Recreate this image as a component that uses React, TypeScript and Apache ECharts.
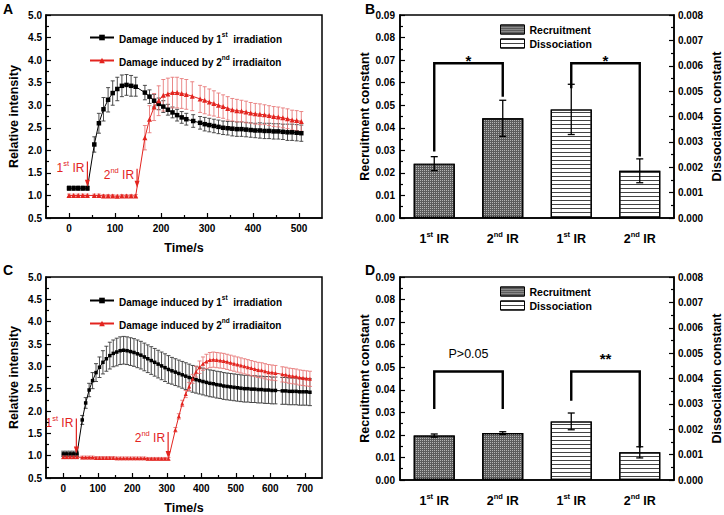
import React, { useEffect, useRef } from "react";
import * as echarts from "echarts";

const FONT = '"Liberation Sans", Arial, Helvetica, sans-serif';
const RED = "#e3241f";
const RED_ERR = "#e87a7a";
const BLACK_ERR = "#3a3a3a";

const name1 = "Damage induced by 1st  irradiation";
const name2 = "Damage induced by 2nd irradiaiton";

// ---------- Panel A ----------
const aTime1 = [0,10,20,30,40,55,65,75,85,95,105,115,125,135,145,165,175,185,195,205,215,225,235,245,255,270,285,295,305,315,325,335,345,355,365,375,385,395,405,415,425,435,445,455,465,475,485,495,505];
const aMean1 = [1.16,1.16,1.16,1.16,1.16,2.13,2.6,2.91,3.12,3.27,3.36,3.43,3.45,3.43,3.41,3.28,3.19,3.1,3.03,2.97,2.9,2.84,2.78,2.73,2.69,2.65,2.61,2.58,2.56,2.54,2.52,2.5,2.49,2.48,2.47,2.47,2.46,2.45,2.44,2.44,2.43,2.43,2.42,2.42,2.41,2.4,2.4,2.39,2.38];
const aErr1 = [0.05,0.05,0.05,0.05,0.05,0.17,0.22,0.26,0.27,0.27,0.26,0.24,0.23,0.23,0.21,0.16,0.15,0.14,0.13,0.13,0.12,0.12,0.13,0.13,0.13,0.14,0.14,0.15,0.15,0.15,0.15,0.15,0.15,0.16,0.16,0.16,0.16,0.16,0.16,0.17,0.17,0.17,0.17,0.17,0.17,0.18,0.18,0.18,0.18];
const aTime2 = [0,10,20,30,40,55,65,75,85,95,105,115,125,135,145,165,175,185,195,205,215,225,235,245,255,268,285,295,305,315,325,335,345,355,365,375,385,395,405,415,425,435,445,455,465,475,485,495,505];
const aMean2 = [1.0,1.0,1.0,1.0,1.0,1.0,1.0,0.99,0.99,0.99,0.98,0.99,0.99,0.99,0.99,2.28,2.69,2.96,3.1,3.22,3.25,3.28,3.28,3.26,3.24,3.2,3.14,3.11,3.07,3.04,3.0,2.97,2.93,2.9,2.88,2.87,2.85,2.83,2.81,2.8,2.79,2.77,2.75,2.74,2.72,2.7,2.67,2.66,2.64];
const aErr2 = [0.03,0.03,0.03,0.03,0.03,0.03,0.03,0.03,0.03,0.03,0.03,0.03,0.03,0.03,0.03,0.27,0.3,0.3,0.33,0.35,0.35,0.34,0.34,0.33,0.33,0.32,0.3,0.3,0.29,0.28,0.27,0.26,0.26,0.25,0.25,0.24,0.24,0.23,0.23,0.23,0.22,0.22,0.22,0.22,0.22,0.22,0.22,0.22,0.22];
const aXLabels = [0,100,200,300,400,500];
const aXMinor = [50,150,250,350,450];
const aIrLabels = ["1st IR", "2nd IR"];
const aIrT = [40, 148];
const aIrTop = [1.75, 1.59];
const aIrTip = [1.19, 1.17];
const aIrTextY = [1.64, 1.48];

// ---------- Panel C ----------
const cTime1 = [0,10,20,30,40,55,65,75,85,95,105,115,125,135,145,155,165,175,185,195,205,215,225,235,245,255,265,275,285,295,305,315,325,335,345,355,365,375,385,395,405,415,425,435,445,455,465,475,485,495,505,515,525,535,545,555,565,575,585,595,605,615,635,645,655,665,675,685,695,705,715];
const cMean1 = [1.04,1.04,1.04,1.04,1.04,1.8,2.18,2.47,2.68,2.86,2.98,3.09,3.17,3.24,3.29,3.32,3.35,3.36,3.35,3.33,3.31,3.28,3.25,3.21,3.17,3.13,3.09,3.05,3.01,2.97,2.93,2.9,2.87,2.84,2.81,2.78,2.75,2.72,2.7,2.68,2.66,2.64,2.62,2.61,2.59,2.58,2.56,2.55,2.54,2.53,2.52,2.51,2.5,2.5,2.49,2.49,2.48,2.48,2.47,2.47,2.46,2.46,2.45,2.45,2.44,2.44,2.44,2.43,2.43,2.43,2.42];
const cErr1 = [0.06,0.06,0.06,0.06,0.06,0.1,0.12,0.15,0.18,0.2,0.23,0.26,0.28,0.3,0.3,0.31,0.31,0.31,0.31,0.31,0.31,0.31,0.31,0.31,0.31,0.31,0.31,0.31,0.31,0.31,0.31,0.3,0.3,0.3,0.3,0.3,0.3,0.3,0.3,0.3,0.3,0.3,0.3,0.3,0.3,0.3,0.3,0.3,0.3,0.3,0.3,0.3,0.3,0.3,0.3,0.3,0.3,0.3,0.3,0.3,0.3,0.3,0.3,0.3,0.3,0.3,0.3,0.3,0.3,0.3,0.3];
const cTime2 = [0,10,20,30,40,55,65,75,85,95,105,115,125,135,145,155,165,175,185,195,205,215,225,235,245,255,265,275,285,295,305,325,335,345,355,365,375,385,395,405,415,425,435,445,455,465,475,485,495,505,515,525,535,545,555,565,575,585,595,605,615,635,645,655,665,675,685,695,705,715];
const cMean2 = [0.97,0.97,0.97,0.97,0.97,0.96,0.96,0.96,0.96,0.95,0.95,0.95,0.95,0.95,0.95,0.94,0.94,0.94,0.94,0.94,0.94,0.94,0.94,0.94,0.93,0.93,0.93,0.93,0.93,0.93,0.93,1.58,1.88,2.17,2.38,2.55,2.72,2.88,2.98,3.06,3.11,3.14,3.15,3.14,3.13,3.12,3.1,3.08,3.06,3.04,3.02,3.0,2.98,2.96,2.94,2.92,2.91,2.89,2.87,2.86,2.85,2.82,2.81,2.79,2.78,2.77,2.75,2.74,2.73,2.72];
const cErr2 = [0.04,0.04,0.04,0.04,0.04,0.03,0.03,0.03,0.03,0.03,0.03,0.03,0.03,0.03,0.03,0.03,0.03,0.03,0.03,0.03,0.03,0.03,0.03,0.03,0.03,0.03,0.03,0.03,0.03,0.03,0.03,0.05,0.06,0.07,0.08,0.09,0.1,0.12,0.14,0.15,0.16,0.17,0.17,0.17,0.17,0.17,0.17,0.17,0.17,0.17,0.17,0.17,0.17,0.17,0.17,0.17,0.17,0.17,0.17,0.17,0.17,0.17,0.17,0.17,0.17,0.17,0.17,0.17,0.17,0.17];
const cXLabels = [0,100,200,300,400,500,600,700];
const cXMinor = [50,150,250,350,450,550,650];
const cIrLabels = ["1st IR", "2nd IR"];
const cIrT = [38, 304];
const cIrTop = [1.83, 1.53];
const cIrTip = [1.05, 0.95];
const cIrTextY = [1.76, 1.42];

// ---------- Panels B & D ----------
const barCategories = ["1st IR", "2nd IR", "1st IR", "2nd IR"];
const bRecruit = [0.0241, 0.0442];
const bRecruitErr = [0.0031, 0.008];
const bDissoc = [0.00428, 0.00186];
const bDissocErr = [0.00099, 0.00047];
const bBrackets = [[0, 1, 0.0686, 0.0295, 0.0538], [2, 3, 0.0686, 0.0575, 0.0273]];
const bBracketLabels = ["*", "*"];
const bBracketLabelY = [0.0698, 0.0698];

const dRecruit = [0.0197, 0.0208];
const dRecruitErr = [0.0007, 0.0006];
const dDissoc = [0.00231, 0.00109];
const dDissocErr = [0.00033, 0.00022];
const dBrackets = [[0, 1, 0.0481, 0.0315, 0.0315], [2, 3, 0.0481, 0.0351, 0.0144]];
const dBracketLabels = ["P>0.05", "**"];
const dBracketLabelY = [0.0558, 0.0538];

const panelLetters = ["A", "B", "C", "D"];

function supRich(s: string): string {
  return s
    .split(/(\d(?:st|nd|rd|th)\b)/)
    .filter((p) => p.length > 0)
    .map((p) => {
      const m = p.match(/^(\d)(st|nd|rd|th)$/);
      return m ? `{n|${m[1]}}{s|${m[2]}}` : `{n|${p}}`;
    })
    .join("");
}

function richStyles(size: number, supSize: number, weight: string, color: string) {
  return {
    n: { fontSize: size, fontWeight: weight, fontFamily: FONT, color, fill: color, lineHeight: size + 3, verticalAlign: "bottom" },
    s: { fontSize: supSize, fontWeight: weight, fontFamily: FONT, color, fill: color, lineHeight: supSize + 2, verticalAlign: "top" },
  };
}

function errorBarRender(color: string, cap: number, width: number) {
  return (params: any, api: any) => {
    const x = api.value(0);
    const p1 = api.coord([x, api.value(1)]);
    const p2 = api.coord([x, api.value(2)]);
    const style = { stroke: color, lineWidth: width };
    return {
      type: "group",
      children: [
        { type: "line", shape: { x1: p1[0], y1: p1[1], x2: p2[0], y2: p2[1] }, style },
        { type: "line", shape: { x1: p1[0] - cap, y1: p1[1], x2: p1[0] + cap, y2: p1[1] }, style },
        { type: "line", shape: { x1: p2[0] - cap, y1: p2[1], x2: p2[0] + cap, y2: p2[1] }, style },
      ],
    };
  };
}

function bracketRender(labels: string[], labelY: number[]) {
  return (params: any, api: any) => {
    const i1 = api.value(0), i2 = api.value(1), top = api.value(2), lb = api.value(3), rb = api.value(4);
    const a = api.coord([i1, lb]);
    const b = api.coord([i1, top]);
    const c = api.coord([i2, top]);
    const d = api.coord([i2, rb]);
    const label = labels[params.dataIndex];
    const ly = api.coord([i1, labelY[params.dataIndex]])[1];
    const isStar = /^\*+$/.test(label);
    return {
      type: "group",
      children: [
        { type: "polyline", shape: { points: [a, b, c, d] }, style: { stroke: "#000", lineWidth: 2.4, fill: null } },
        {
          type: "text",
          style: {
            text: label, x: (b[0] + c[0]) / 2, y: ly, align: "center", verticalAlign: "middle",
            fontFamily: FONT, fontSize: isStar ? 15 : 12.5, fontWeight: isStar ? "bold" : "normal", fill: "#000",
          },
        },
      ],
    };
  };
}

function irRender(labels: string[], tops: number[], tips: number[], textYs: number[]) {
  return (params: any, api: any) => {
    const i = params.dataIndex;
    const t = api.value(0);
    const top = api.coord([t, tops[i]]);
    const tip = api.coord([t, tips[i]]);
    const ty = api.coord([t, textYs[i]])[1];
    return {
      type: "group",
      children: [
        { type: "line", shape: { x1: top[0], y1: top[1], x2: tip[0], y2: tip[1] - 5 }, style: { stroke: RED, lineWidth: 1.2 } },
        { type: "polygon", shape: { points: [[tip[0] - 2.5, tip[1] - 7], [tip[0] + 2.5, tip[1] - 7], [tip[0], tip[1]]] }, style: { fill: RED } },
        {
          type: "text",
          style: {
            text: supRich(labels[i]), x: top[0] - 3, y: ty, align: "right", verticalAlign: "middle",
            fill: RED, rich: richStyles(12, 7.5, "normal", RED),
          },
        },
      ],
    };
  };
}

const pairs = (xs: number[], ys: number[]) => xs.map((x, i) => [x, ys[i]]);
const errs = (xs: number[], ys: number[], es: number[]) => xs.map((x, i) => [x, ys[i] - es[i], ys[i] + es[i]]);

const tickStyle = { color: "#000", width: 1.2 };
const axisLineStyle = { color: "#000", width: 1.5 };
const tickLabel = { fontFamily: FONT, fontWeight: "bold", fontSize: 10, color: "#000" };
const axisName = { fontFamily: FONT, fontWeight: "bold", fontSize: 12.5, color: "#000" };

function timeXAxes(grid: number, min: number, max: number, labels: number[], minor: number[]) {
  return [
    {
      type: "value", gridIndex: grid, min, max, position: "bottom",
      name: "Time/s", nameLocation: "middle", nameGap: 23, nameTextStyle: axisName,
      axisLine: { show: true, onZero: false, lineStyle: axisLineStyle },
      axisTick: { show: true, inside: true, length: 5, lineStyle: tickStyle, customValues: labels },
      axisLabel: { ...tickLabel, margin: 5, customValues: labels },
      splitLine: { show: false },
    },
    {
      type: "value", gridIndex: grid, min, max, position: "bottom", offset: 0,
      axisLine: { show: false, onZero: false },
      axisTick: { show: true, inside: true, length: 3, lineStyle: tickStyle, customValues: minor },
      axisLabel: { show: false },
      splitLine: { show: false },
    },
  ];
}

function intensityYAxis(grid: number) {
  return {
    type: "value", gridIndex: grid, min: 0.5, max: 5, interval: 0.5,
    name: "Relative intensity", nameLocation: "middle", nameGap: 26, nameTextStyle: axisName,
    axisLine: { show: true, onZero: false, lineStyle: axisLineStyle },
    axisTick: { show: true, inside: true, length: 5, lineStyle: tickStyle },
    minorTick: { show: true, splitNumber: 2, length: 3, lineStyle: tickStyle },
    axisLabel: { ...tickLabel, margin: 4, formatter: (v: number) => v.toFixed(1) },
    splitLine: { show: false },
  };
}

function barXAxis(grid: number) {
  return {
    type: "category", gridIndex: grid, data: barCategories,
    axisLine: { show: true, onZero: false, lineStyle: axisLineStyle },
    axisTick: { show: false },
    axisLabel: { interval: 0, margin: 12, formatter: (v: string) => supRich(v), rich: richStyles(12.5, 7.5, "bold", "#000") },
  };
}

function barYAxes(grid: number) {
  return [
    {
      type: "value", gridIndex: grid, min: 0, max: 0.09, interval: 0.01, position: "left",
      name: "Recruitment constant", nameLocation: "middle", nameGap: 25, nameTextStyle: axisName,
      axisLine: { show: true, onZero: false, lineStyle: axisLineStyle },
      axisTick: { show: true, inside: true, length: 5, lineStyle: tickStyle },
      minorTick: { show: true, splitNumber: 2, length: 3, lineStyle: tickStyle },
      axisLabel: { ...tickLabel, margin: 5, formatter: (v: number) => v.toFixed(2) },
      splitLine: { show: false },
    },
    {
      type: "value", gridIndex: grid, min: 0, max: 0.008, interval: 0.001, position: "right",
      name: "Dissociation constant", nameLocation: "middle", nameGap: 36, nameTextStyle: axisName,
      axisLine: { show: true, onZero: false, lineStyle: axisLineStyle },
      axisTick: { show: true, inside: true, length: 5, lineStyle: tickStyle },
      minorTick: { show: true, splitNumber: 2, length: 3, lineStyle: tickStyle },
      axisLabel: { ...tickLabel, margin: 4, formatter: (v: number) => v.toFixed(3) },
      splitLine: { show: false },
    },
  ];
}

const recruitStyle = {
  color: "#5c5c5c", borderColor: "#000", borderWidth: 1.2,
  decal: { symbol: "rect", symbolSize: 1, dashArrayX: [1, 1], dashArrayY: [1, 1], color: "rgba(255,255,255,0.55)" },
};
const dissocStyle = {
  color: "#ffffff", borderColor: "#000", borderWidth: 1.2,
  decal: { symbol: "rect", symbolSize: 1, dashArrayX: [1, 0], dashArrayY: [1, 3], color: "#444" },
};

function lineSeries(name: string, xa: number, ya: number, xs: number[], ys: number[], color: string, symbol: string, size: number) {
  return {
    name, type: "line", xAxisIndex: xa, yAxisIndex: ya, data: pairs(xs, ys),
    symbol, symbolSize: size, showSymbol: true, color, z: 5,
    lineStyle: { color, width: 1 }, itemStyle: { color },
  };
}

function errSeries(xa: number, ya: number, data: number[][], color: string, cap: number, width: number) {
  return {
    type: "custom", xAxisIndex: xa, yAxisIndex: ya, data, z: 3,
    renderItem: errorBarRender(color, cap, width),
  };
}

function barSeries(xa: number, yl: number, yr: number, rec: number[], recErr: number[], dis: number[], disErr: number[], brackets: number[][], bl: string[], bly: number[]) {
  return [
    { name: "Recruitment", type: "bar", xAxisIndex: xa, yAxisIndex: yl, data: [rec[0], rec[1], "-", "-"], barWidth: "60%", barGap: "-100%", itemStyle: recruitStyle, z: 2 },
    { name: "Dissociation", type: "bar", xAxisIndex: xa, yAxisIndex: yr, data: ["-", "-", dis[0], dis[1]], barWidth: "60%", barGap: "-100%", itemStyle: dissocStyle, z: 2 },
    errSeries(xa, yl, rec.map((v, i) => [i, v - recErr[i], v + recErr[i]]), "#000", 3.5, 1.3),
    errSeries(xa, yr, dis.map((v, i) => [i + 2, v - disErr[i], v + disErr[i]]), "#000", 3.5, 1.3),
    { type: "custom", xAxisIndex: xa, yAxisIndex: yl, data: brackets, z: 4, renderItem: bracketRender(bl, bly) },
  ];
}

function lineLegend(top: number) {
  return {
    data: [name1, name2], orient: "vertical", left: 84, top, itemGap: 10, itemWidth: 24, itemHeight: 7,
    formatter: (n: string) => supRich(n),
    textStyle: { rich: richStyles(10, 6.5, "bold", "#000") },
  };
}

function barLegend(top: number) {
  return {
    data: ["Recruitment", "Dissociation"], orient: "vertical", left: 495, top, itemGap: 3, itemWidth: 24, itemHeight: 9,
    icon: "rect", itemStyle: { borderColor: "#000", borderWidth: 1 },
    textStyle: { fontFamily: FONT, fontWeight: "bold", fontSize: 10.5, color: "#000" },
  };
}

export default function App() {
  const ref = useRef<HTMLDivElement>(null);
  useEffect(() => {
    if (!ref.current) return;
    const chart = echarts.init(ref.current, null, { renderer: "svg" });
    const gridBase = { show: true, borderColor: "#000", borderWidth: 1.5, backgroundColor: "transparent", containLabel: false };
    const option: any = {
      animation: false,
      backgroundColor: "#fff",
      grid: [
        { ...gridBase, left: 46, top: 15, width: 276, height: 203 },
        { ...gridBase, left: 400, top: 15, width: 276, height: 203 },
        { ...gridBase, left: 46, top: 277, width: 276, height: 203 },
        { ...gridBase, left: 400, top: 277, width: 276, height: 203 },
      ],
      xAxis: [
        ...timeXAxes(0, -50, 550, aXLabels, aXMinor),
        barXAxis(1),
        ...timeXAxes(2, -50, 750, cXLabels, cXMinor),
        barXAxis(3),
      ],
      yAxis: [
        intensityYAxis(0),
        ...barYAxes(1),
        intensityYAxis(2),
        ...barYAxes(3),
      ],
      legend: [lineLegend(26), barLegend(19), lineLegend(289), barLegend(281)],
      series: [
        errSeries(0, 0, errs(aTime1, aMean1, aErr1), BLACK_ERR, 2, 0.9),
        errSeries(0, 0, errs(aTime2, aMean2, aErr2), RED_ERR, 2, 0.9),
        lineSeries(name1, 0, 0, aTime1, aMean1, "#000", "rect", 4.5),
        lineSeries(name2, 0, 0, aTime2, aMean2, RED, "triangle", 5),
        { type: "custom", xAxisIndex: 0, yAxisIndex: 0, data: aIrT.map((t) => [t]), z: 6, renderItem: irRender(aIrLabels, aIrTop, aIrTip, aIrTextY) },
        errSeries(3, 3, errs(cTime1, cMean1, cErr1), BLACK_ERR, 2, 0.9),
        errSeries(3, 3, errs(cTime2, cMean2, cErr2), RED_ERR, 2, 0.9),
        lineSeries(name1, 3, 3, cTime1, cMean1, "#000", "rect", 3.5),
        lineSeries(name2, 3, 3, cTime2, cMean2, RED, "triangle", 4),
        { type: "custom", xAxisIndex: 3, yAxisIndex: 3, data: cIrT.map((t) => [t]), z: 6, renderItem: irRender(cIrLabels, cIrTop, cIrTip, cIrTextY) },
        ...barSeries(2, 1, 2, bRecruit, bRecruitErr, bDissoc, bDissocErr, bBrackets, bBracketLabels, bBracketLabelY),
        ...barSeries(5, 4, 5, dRecruit, dRecruitErr, dDissoc, dDissocErr, dBrackets, dBracketLabels, dBracketLabelY),
      ],
      graphic: panelLetters.map((l, i) => ({
        type: "text", left: i % 2 === 0 ? 3 : 365, top: i < 2 ? 2 : 263,
        style: { text: l, fontFamily: FONT, fontWeight: "bold", fontSize: 14, fill: "#000" },
      })),
    };
    chart.setOption(option);
    return () => chart.dispose();
  }, []);
  return <div ref={ref} style={{ position: "absolute", left: 0, top: 0, width: 724, height: 515 }} />;
}
